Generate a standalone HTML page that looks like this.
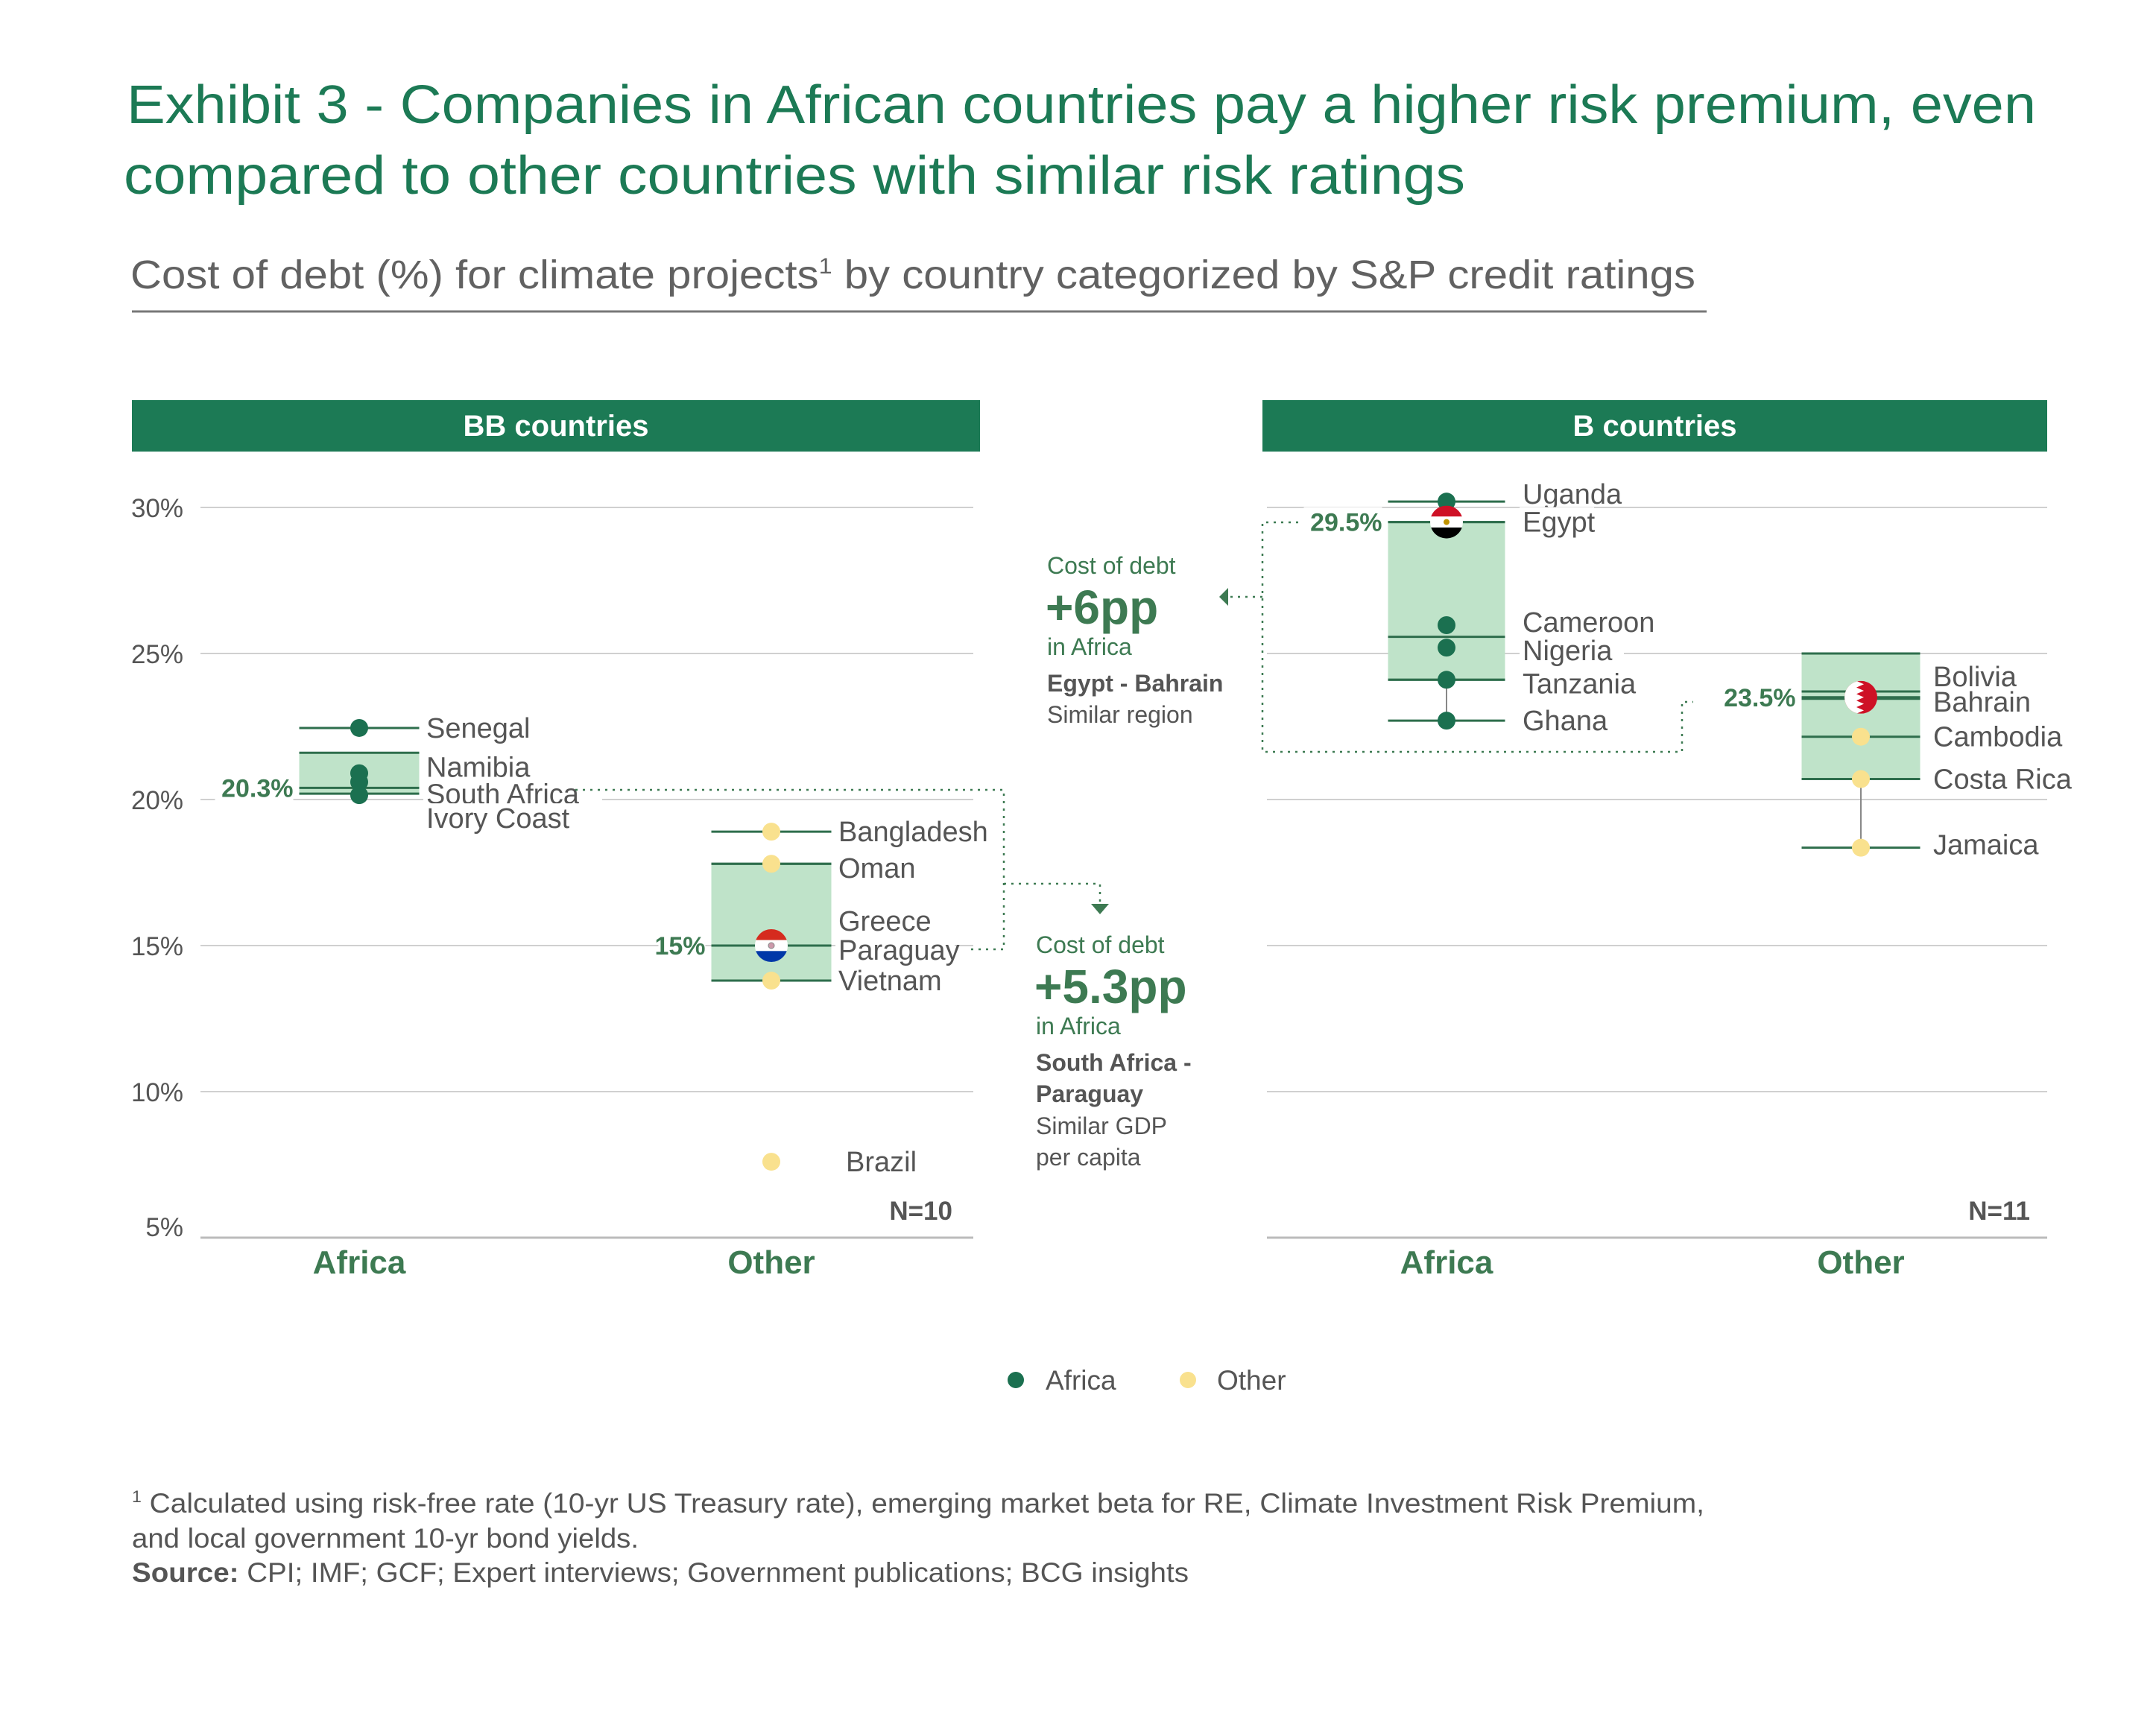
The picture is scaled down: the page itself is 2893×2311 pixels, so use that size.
<!DOCTYPE html>
<html><head><meta charset="utf-8"><style>
html,body{margin:0;padding:0;background:#fff}
svg{display:block}
text{font-family:"Liberation Sans",sans-serif}
</style></head><body>
<svg id="chart" width="2893" height="2311" viewBox="0 0 2893 2311" xmlns="http://www.w3.org/2000/svg">
<text x="170" y="165" font-size="72" fill="#1c7a55" textLength="2562" lengthAdjust="spacingAndGlyphs">Exhibit 3 - Companies in African countries pay a higher risk premium, even</text>
<text x="166" y="260" font-size="72" fill="#1c7a55" textLength="1800" lengthAdjust="spacingAndGlyphs">compared to other countries with similar risk ratings</text>
<text x="175" y="387" font-size="54" fill="#616161" textLength="2100" lengthAdjust="spacingAndGlyphs">Cost of debt (%) for climate projects<tspan font-size="30" dy="-20">1</tspan><tspan dy="20"> by country categorized by S&amp;P credit ratings</tspan></text>
<line x1="177" y1="418" x2="2290" y2="418" stroke="#777" stroke-width="3"/>
<g id="plot"></g>
<g>
<circle cx="1363" cy="1852" r="11" fill="#1b7050"/>
<text x="1403" y="1865" font-size="37" fill="#555">Africa</text>
<circle cx="1594" cy="1852" r="11" fill="#f9e18e"/>
<text x="1633" y="1865" font-size="37" fill="#555">Other</text>
</g>
<text x="177" y="2030" font-size="37" fill="#555" textLength="2110" lengthAdjust="spacingAndGlyphs"><tspan font-size="22" dy="-14">1</tspan><tspan dy="14"> Calculated using risk-free rate (10-yr US Treasury rate), emerging market beta for RE, Climate Investment Risk Premium,</tspan></text>
<text x="177" y="2077" font-size="37" fill="#555" textLength="680" lengthAdjust="spacingAndGlyphs">and local government 10-yr bond yields.</text>
<text x="177" y="2123" font-size="37" fill="#555" textLength="1418" lengthAdjust="spacingAndGlyphs"><tspan font-weight="bold">Source:</tspan> CPI; IMF; GCF; Expert interviews; Government publications; BCG insights</text>
</svg>
<script>
// ---- data ----
const yTicks = [30, 25, 20, 15, 10, 5];
const tickLabels = ["30%", "25%", "20%", "15%", "10%", "5%"];
const categories = ["Africa", "Other"];
const bbAfricaNames = ["Senegal", "Namibia", "South Africa", "Ivory Coast"];
const bbAfricaValues = [22.45, 20.9, 20.6, 20.15];
const bbOtherNames = ["Bangladesh", "Oman", "Greece", "Paraguay", "Vietnam", "Brazil"];
const bbOtherValues = [18.9, 17.8, 15.0, 15.0, 13.8, 7.6];
const bAfricaNames = ["Uganda", "Egypt", "Cameroon", "Nigeria", "Tanzania", "Ghana"];
const bAfricaValues = [30.2, 29.5, 25.97, 25.2, 24.1, 22.7];
const bOtherNames = ["Bolivia", "Bahrain", "Cambodia", "Costa Rica", "Jamaica"];
const bOtherValues = [23.7, 23.45, 22.15, 20.7, 18.35];
// whether a point gets its own tick line
const bbAfricaTick = [true, false, false, false];
const bbOtherTick = [true, true, false, true, true, false];
const bAfricaTick = [true, true, false, false, true, true];
const bOtherTick = [true, true, true, true, true];
// box stats: [top, median, bottom]
const bbAfricaBox = [21.6, 20.4, 20.2];
const bbOtherBox = [17.8, 15.0, 13.8];
const bAfricaBox = [29.5, 25.57, 24.1];
const bOtherBox = [25.0, 23.5, 20.7];
// value at which the highlighted label sits
const bbAfricaHighlight = 20.4;
const bbOtherHighlight = 15.0;
const bAfricaHighlight = 29.5;
const bOtherHighlight = 23.5;
const bbAfricaMedianLabel = "20.3%";
const bbOtherMedianLabel = "15%";
const bAfricaMedianLabel = "29.5%";
const bOtherMedianLabel = "23.5%";
const nLabels = ["N=10", "N=11"];

// ---- layout ----
const NS = "http://www.w3.org/2000/svg";
const plot = document.getElementById("plot");
const Y30 = 681, PX_PER = 39.2;
function y(v){ return Y30 + (30 - v) * PX_PER; }
function mk(tag, attrs, parent){
  const e = document.createElementNS(NS, tag);
  for (const k in attrs) e.setAttribute(k, attrs[k]);
  (parent || plot).appendChild(e);
  return e;
}
function txt(s, attrs){ const e = mk("text", attrs); e.textContent = s; return e; }
const GREEN = "#2e6e4c", DOT = "#1b7050", YEL = "#f9e18e", BOX = "#bfe3c9";

const panels = [
  {key:"bb", title:"BB countries", hx1:177, hx2:1315, gx1:269, gx2:1306, cx:[482,1035], bw:[161,161],
   names:[bbAfricaNames,bbOtherNames], vals:[bbAfricaValues,bbOtherValues], box:[bbAfricaBox,bbOtherBox],
   tick:[bbAfricaTick,bbOtherTick], hl:[bbAfricaHighlight,bbOtherHighlight],
   med:[bbAfricaMedianLabel,bbOtherMedianLabel], labX:[572,1125], nudge:[[0,-8,16,31],[0,6,-33,6,0,0]],
   labXNudge:[[0,0,0,0],[0,0,0,0,0,10]], whisk:[null,null], n:nLabels[0], nx:1278, ticks:true},
  {key:"b", title:"B countries", hx1:1694, hx2:2747, gx1:1700, gx2:2747, cx:[1941,2497], bw:[157,159],
   names:[bAfricaNames,bOtherNames], vals:[bAfricaValues,bOtherValues], box:[bAfricaBox,bOtherBox],
   tick:[bAfricaTick,bOtherTick], hl:[bAfricaHighlight,bOtherHighlight],
   med:[bAfricaMedianLabel,bOtherMedianLabel], labX:[2043,2594], nudge:[[-10,0,-4,4,5,0],[-20,4,0,0,-4]],
   labXNudge:[[0,0,0,0,0,0],[0,0,0,0,0]], whisk:[[4,5],[3,4]], n:nLabels[1], nx:2724, ticks:false}
];

panels.forEach(p => {
  let e = mk("rect", {x:p.hx1, y:537, width:p.hx2-p.hx1, height:69, fill:"#1c7a55"});
  
  
  e = txt(p.title, {x:(p.hx1+p.hx2)/2, y:585, "font-size":40, "font-weight":"bold", fill:"#fff", "text-anchor":"middle"});
  
  
  yTicks.forEach((t, i) => {
    const last = i === yTicks.length - 1;
    e = mk("line", {x1:p.gx1, x2:p.gx2, y1:y(t), y2:y(t), stroke: last ? "#bbb" : "#d0d0d0", "stroke-width": last ? 3 : 2});
    
    
    if (p.ticks) {
      e = txt(tickLabels[i], {x:246, y:y(t)+(last?-2:13), "font-size":35, fill:"#555", "text-anchor":"end"});
      
      
    }
  });
  categories.forEach((c, gi) => {
    e = txt(c, {x:p.cx[gi], y:1709, "font-size":44, "font-weight":"bold", fill:"#3d7a52", "text-anchor":"middle"});
    
    
    const cx = p.cx[gi], hw = p.bw[gi]/2, b = p.box[gi], vals = p.vals[gi], names = p.names[gi];
    if (p.whisk[gi]) {
      e = mk("line", {x1:cx, x2:cx, y1:y(vals[p.whisk[gi][0]]), y2:y(vals[p.whisk[gi][1]]), stroke:"#888", "stroke-width":2});
      
      
    }
    e = mk("rect", {x:cx-hw, y:y(b[0]), width:2*hw, height:y(b[2])-y(b[0]), fill:BOX});
    
    
    vals.forEach((v, i) => {
      if (!p.tick[gi][i]) return;
      e = mk("line", {x1:cx-hw, x2:cx+hw, y1:y(v), y2:y(v), stroke:GREEN, "stroke-width":3});
      
      
    });
    [b[0], b[1], b[2]].forEach((v, k) => {
      e = mk("line", {x1:cx-hw, x2:cx+hw, y1:y(v), y2:y(v), stroke:GREEN, "stroke-width":3});
      
      
    });
    vals.forEach((v, i) => {
      const ly = y(v) + p.nudge[gi][i];
      const bgw = names[i].length * 20;
      e = mk("rect", {x:p.labX[gi]-4, y:ly-20, width:bgw, height:36, fill:"#fff"});
      
      
      e = txt(names[i], {x:p.labX[gi]+p.labXNudge[gi][i], y:ly+13, "font-size":38, fill:"#555"});
      
      
    });
    vals.forEach((v, i) => {
      const nm = names[i];
      if (nm === "Greece") return;
      if (nm === "Paraguay" || nm === "Egypt" || nm === "Bahrain") {
        const g = mk("g", {});
        
        
        const cy = y(nm === "Bahrain" ? b[1] : v), r = 22, id = "clip" + nm;
        const cp = mk("clipPath", {id:id}, g); mk("circle", {cx:cx, cy:cy, r:r}, cp);
        const gg = mk("g", {"clip-path":"url(#"+id+")"}, g);
        if (nm === "Paraguay") {
          mk("rect",{x:cx-r,y:cy-r,width:2*r,height:2*r/3,fill:"#d52b1e"},gg);
          mk("rect",{x:cx-r,y:cy-r/3,width:2*r,height:2*r/3,fill:"#fff"},gg);
          mk("rect",{x:cx-r,y:cy+r/3,width:2*r,height:2*r/3,fill:"#0038a8"},gg);
          mk("circle",{cx:cx,cy:cy,r:4,fill:"#c9a",stroke:"#888"},gg);
        } else if (nm === "Egypt") {
          mk("rect",{x:cx-r,y:cy-r,width:2*r,height:2*r/3,fill:"#ce1126"},gg);
          mk("rect",{x:cx-r,y:cy-r/3,width:2*r,height:2*r/3,fill:"#fff"},gg);
          mk("rect",{x:cx-r,y:cy+r/3,width:2*r,height:2*r/3,fill:"#000"},gg);
          mk("circle",{cx:cx,cy:cy,r:4,fill:"#c09300"},gg);
        } else {
          mk("rect",{x:cx-r,y:cy-r,width:2*r,height:2*r,fill:"#ce1126"},gg);
          let pts = (cx-r)+","+(cy-r)+" ";
          for (let k=0;k<=10;k++){ const xx = (k%2===0)? cx-6 : cx+4; pts += xx+","+(cy-r+k*4.4)+" "; }
          pts += (cx-r)+","+(cy+r);
          mk("polygon",{points:pts,fill:"#fff"},gg);
        }
        return;
      }
      e = mk("circle", {cx:cx, cy:y(v), r:12, fill: gi===0 ? DOT : YEL});
      
      
    });
    const medX = cx - hw - 8;
    const ml = p.med[gi];
    const hy = y(p.hl[gi]);
    e = mk("rect", {x:medX - ml.length*21, y:hy-20, width:ml.length*21, height:38, fill:"#fff"});
    
    
    e = txt(ml, {x:medX, y:hy+12, "font-size":34, "font-weight":"bold", fill:"#3d7a52", "text-anchor":"end"});
    
    
  });
  e = txt(p.n, {x:p.nx, y:1637, "font-size":35, "font-weight":"bold", fill:"#555", "text-anchor":"end"});
  
  
});

const dot = {fill:"none", stroke:"#3d7a52", "stroke-width":2.5, "stroke-dasharray":"3 7"};
function conn(pts, name){
  const a = Object.assign({points:pts}, dot);
  const e = mk("polyline", a);
  
  
}
conn("772,1060 1347,1060 1347,1274 1300,1274", "connector-south-africa-paraguay");
conn("1347,1186 1476,1186 1476,1212", "connector-bb-annotation");
conn("1742,701 1694,701 1694,1009 2257,1009 2257,942 2272,942", "connector-egypt-bahrain");
conn("1694,801 1650,801", "connector-b-annotation");
let ar = mk("polygon", {points:"1464,1213 1488,1213 1476,1227", fill:"#3d7a52"});


ar = mk("polygon", {points:"1636,801 1648,789 1648,813", fill:"#3d7a52"});



function ann(s, x, yy, size, weight, color, name){
  const e = txt(s, {x:x, y:yy, "font-size":size, "font-weight":weight, fill:color});
  
  
}
ann("Cost of debt", 1405, 770, 32, "normal", "#3d7a52", "annotation-b-heading");
ann("+6pp", 1403, 837, 64, "bold", "#3d7a52", "annotation-b-value");
ann("in Africa", 1405, 879, 32, "normal", "#3d7a52", "annotation-b-sub");
ann("Egypt - Bahrain", 1405, 928, 32, "bold", "#555", "annotation-b-pair");
ann("Similar region", 1405, 970, 32, "normal", "#555", "annotation-b-reason");
ann("Cost of debt", 1390, 1279, 32, "normal", "#3d7a52", "annotation-bb-heading");
ann("+5.3pp", 1388, 1346, 64, "bold", "#3d7a52", "annotation-bb-value");
ann("in Africa", 1390, 1388, 32, "normal", "#3d7a52", "annotation-bb-sub");
ann("South Africa -", 1390, 1437, 32, "bold", "#555", "annotation-bb-pair-1");
ann("Paraguay", 1390, 1479, 32, "bold", "#555", "annotation-bb-pair-2");
ann("Similar GDP", 1390, 1522, 32, "normal", "#555", "annotation-bb-reason-1");
ann("per capita", 1390, 1564, 32, "normal", "#555", "annotation-bb-reason-2");
</script>
</body></html>
